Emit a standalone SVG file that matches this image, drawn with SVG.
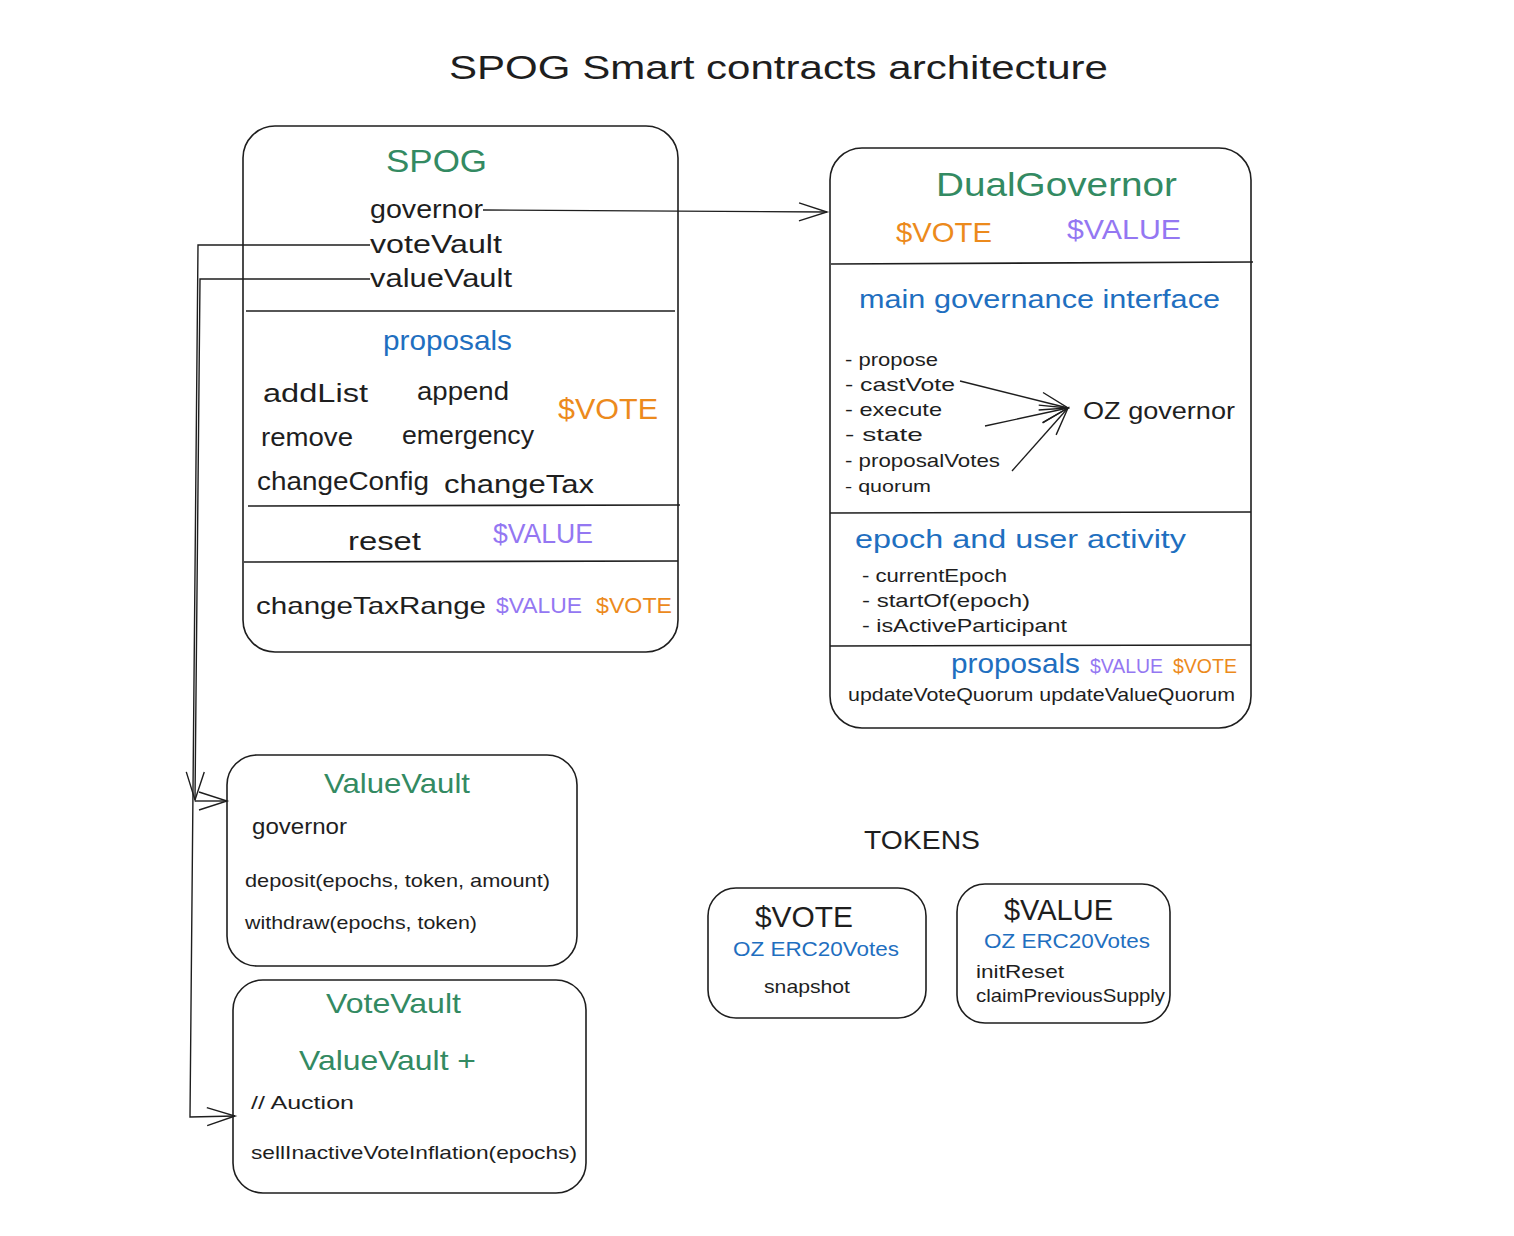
<svg xmlns="http://www.w3.org/2000/svg" width="1514" height="1236" viewBox="0 0 1514 1236">
<defs>
<style>
text{font-family:"Liberation Sans",Arial,sans-serif;fill:#1e1e1e;}
.box{fill:#fff;stroke:#1e1e1e;stroke-width:1.6;}
.div{stroke:#1e1e1e;stroke-width:1.6;fill:none;}
.con{stroke:#1e1e1e;stroke-width:1.4;fill:none;}
.g{fill:#338a62;}
.b{fill:#1f6fc0;}
.o{fill:#ec8a1c;}
.p{fill:#9477f2;}
</style>
<marker id="ah" markerUnits="userSpaceOnUse" markerWidth="32" markerHeight="22" refX="29" refY="11" orient="auto">
<path d="M1,2 L29,11 L1,20" fill="none" stroke="#1e1e1e" stroke-width="1.4"/>
</marker>
</defs>
<rect width="1514" height="1236" fill="#fff"/>

<text id="title" x="449" y="79" font-size="34" textLength="659" lengthAdjust="spacingAndGlyphs">SPOG Smart contracts architecture</text>

<g id="spog">
<rect class="box" x="243" y="126" width="435" height="526" rx="32"/>
<text class="g" x="386" y="172" font-size="32" textLength="101" lengthAdjust="spacingAndGlyphs">SPOG</text>
<text x="370" y="218" font-size="26" textLength="113" lengthAdjust="spacingAndGlyphs">governor</text>
<text x="370" y="253" font-size="26" textLength="132" lengthAdjust="spacingAndGlyphs">voteVault</text>
<text x="370" y="287" font-size="26" textLength="142" lengthAdjust="spacingAndGlyphs">valueVault</text>
<line class="div" x1="246" y1="311" x2="675" y2="311"/>
<text class="b" x="383" y="350" font-size="28" textLength="129" lengthAdjust="spacingAndGlyphs">proposals</text>
<text x="263" y="402" font-size="26" textLength="105" lengthAdjust="spacingAndGlyphs">addList</text>
<text x="417" y="400" font-size="26" textLength="92" lengthAdjust="spacingAndGlyphs">append</text>
<text class="o" x="558" y="419" font-size="30" textLength="100" lengthAdjust="spacingAndGlyphs">$VOTE</text>
<text x="261" y="446" font-size="26" textLength="92" lengthAdjust="spacingAndGlyphs">remove</text>
<text x="402" y="444" font-size="26" textLength="132" lengthAdjust="spacingAndGlyphs">emergency</text>
<text x="257" y="490" font-size="26" textLength="172" lengthAdjust="spacingAndGlyphs">changeConfig</text>
<text x="444" y="493" font-size="26" textLength="150" lengthAdjust="spacingAndGlyphs">changeTax</text>
<line class="div" x1="248" y1="506" x2="680" y2="505"/>
<text x="348" y="550" font-size="26" textLength="73" lengthAdjust="spacingAndGlyphs">reset</text>
<text class="p" x="493" y="543" font-size="27" textLength="100" lengthAdjust="spacingAndGlyphs">$VALUE</text>
<line class="div" x1="244" y1="562" x2="678" y2="561"/>
<text x="256" y="614" font-size="24" textLength="230" lengthAdjust="spacingAndGlyphs">changeTaxRange</text>
<text class="p" x="496" y="613" font-size="22" textLength="86" lengthAdjust="spacingAndGlyphs">$VALUE</text>
<text class="o" x="596" y="613" font-size="22" textLength="76" lengthAdjust="spacingAndGlyphs">$VOTE</text>
</g>

<g id="dualgovernor">
<rect class="box" x="830" y="148" width="421" height="580" rx="32"/>
<text class="g" x="936" y="196" font-size="34" textLength="241" lengthAdjust="spacingAndGlyphs">DualGovernor</text>
<text class="o" x="896" y="242" font-size="28" textLength="96" lengthAdjust="spacingAndGlyphs">$VOTE</text>
<text class="p" x="1067" y="239" font-size="28" textLength="114" lengthAdjust="spacingAndGlyphs">$VALUE</text>
<line class="div" x1="831" y1="264" x2="1253" y2="262"/>
<text class="b" x="859" y="308" font-size="25" textLength="361" lengthAdjust="spacingAndGlyphs">main governance interface</text>
<text x="845" y="366" font-size="19" textLength="93" lengthAdjust="spacingAndGlyphs">- propose</text>
<text x="845" y="391" font-size="19" textLength="110" lengthAdjust="spacingAndGlyphs">- castVote</text>
<text x="845" y="416" font-size="19" textLength="97" lengthAdjust="spacingAndGlyphs">- execute</text>
<text x="845" y="441" font-size="19" textLength="78" lengthAdjust="spacingAndGlyphs">- state</text>
<text x="845" y="467" font-size="19" textLength="155" lengthAdjust="spacingAndGlyphs">- proposalVotes</text>
<text x="845" y="492" font-size="17" textLength="86" lengthAdjust="spacingAndGlyphs">- quorum</text>
<text x="1083" y="419" font-size="24" textLength="152" lengthAdjust="spacingAndGlyphs">OZ governor</text>
<line class="div" x1="830" y1="513" x2="1251" y2="512"/>
<text class="b" x="855" y="548" font-size="26" textLength="331" lengthAdjust="spacingAndGlyphs">epoch and user activity</text>
<text x="862" y="582" font-size="19" textLength="145" lengthAdjust="spacingAndGlyphs">- currentEpoch</text>
<text x="862" y="607" font-size="19" textLength="168" lengthAdjust="spacingAndGlyphs">- startOf(epoch)</text>
<text x="862" y="632" font-size="19" textLength="205" lengthAdjust="spacingAndGlyphs">- isActiveParticipant</text>
<line class="div" x1="830" y1="646" x2="1251" y2="645"/>
<text class="b" x="951" y="673" font-size="28" textLength="129" lengthAdjust="spacingAndGlyphs">proposals</text>
<text class="p" x="1090" y="673" font-size="20" textLength="73" lengthAdjust="spacingAndGlyphs">$VALUE</text>
<text class="o" x="1173" y="673" font-size="20" textLength="64" lengthAdjust="spacingAndGlyphs">$VOTE</text>
<text x="848" y="701" font-size="19" textLength="387" lengthAdjust="spacingAndGlyphs">updateVoteQuorum updateValueQuorum</text>
</g>

<g id="valuevault">
<rect class="box" x="227" y="755" width="350" height="211" rx="30"/>
<text class="g" x="324" y="793" font-size="28" textLength="146" lengthAdjust="spacingAndGlyphs">ValueVault</text>
<text x="252" y="834" font-size="22" textLength="95" lengthAdjust="spacingAndGlyphs">governor</text>
<text x="245" y="887" font-size="19" textLength="305" lengthAdjust="spacingAndGlyphs">deposit(epochs, token, amount)</text>
<text x="245" y="929" font-size="19" textLength="232" lengthAdjust="spacingAndGlyphs">withdraw(epochs, token)</text>
</g>

<g id="votevault">
<rect class="box" x="233" y="980" width="353" height="213" rx="30"/>
<text class="g" x="326" y="1013" font-size="28" textLength="135" lengthAdjust="spacingAndGlyphs">VoteVault</text>
<text class="g" x="299" y="1070" font-size="28" textLength="177" lengthAdjust="spacingAndGlyphs">ValueVault  +</text>
<text x="251" y="1109" font-size="19" textLength="103" lengthAdjust="spacingAndGlyphs">// Auction</text>
<text x="251" y="1159" font-size="19" textLength="326" lengthAdjust="spacingAndGlyphs">sellInactiveVoteInflation(epochs)</text>
</g>

<text id="tokens" x="864" y="849" font-size="26" textLength="116" lengthAdjust="spacingAndGlyphs">TOKENS</text>

<g id="vote-token">
<rect class="box" x="708" y="888" width="218" height="130" rx="28"/>
<text x="755" y="927" font-size="30" textLength="98" lengthAdjust="spacingAndGlyphs">$VOTE</text>
<text class="b" x="733" y="956" font-size="20" textLength="166" lengthAdjust="spacingAndGlyphs">OZ ERC20Votes</text>
<text x="764" y="993" font-size="19" textLength="86" lengthAdjust="spacingAndGlyphs">snapshot</text>
</g>

<g id="value-token">
<rect class="box" x="957" y="884" width="213" height="139" rx="28"/>
<text x="1004" y="920" font-size="30" textLength="109" lengthAdjust="spacingAndGlyphs">$VALUE</text>
<text class="b" x="984" y="948" font-size="20" textLength="166" lengthAdjust="spacingAndGlyphs">OZ ERC20Votes</text>
<text x="976" y="978" font-size="19" textLength="88" lengthAdjust="spacingAndGlyphs">initReset</text>
<text x="976" y="1002" font-size="19" textLength="189" lengthAdjust="spacingAndGlyphs">claimPreviousSupply</text>
</g>

<g id="connectors">
<path class="con" d="M483,210 L827,212" marker-end="url(#ah)"/>
<path class="con" d="M370,279 L200,279 L195,800" marker-end="url(#ah)"/>
<path class="con" d="M195,801 L227,801" marker-end="url(#ah)"/>
<path class="con" d="M370,245 L198,245 L190,1117 L235,1116" marker-end="url(#ah)"/>
<path class="con" d="M960,381 L1068,408" marker-end="url(#ah)"/>
<path class="con" d="M985,426 L1068,408" marker-end="url(#ah)"/>
<path class="con" d="M1012,471 L1068,408" marker-end="url(#ah)"/>
</g>
</svg>
